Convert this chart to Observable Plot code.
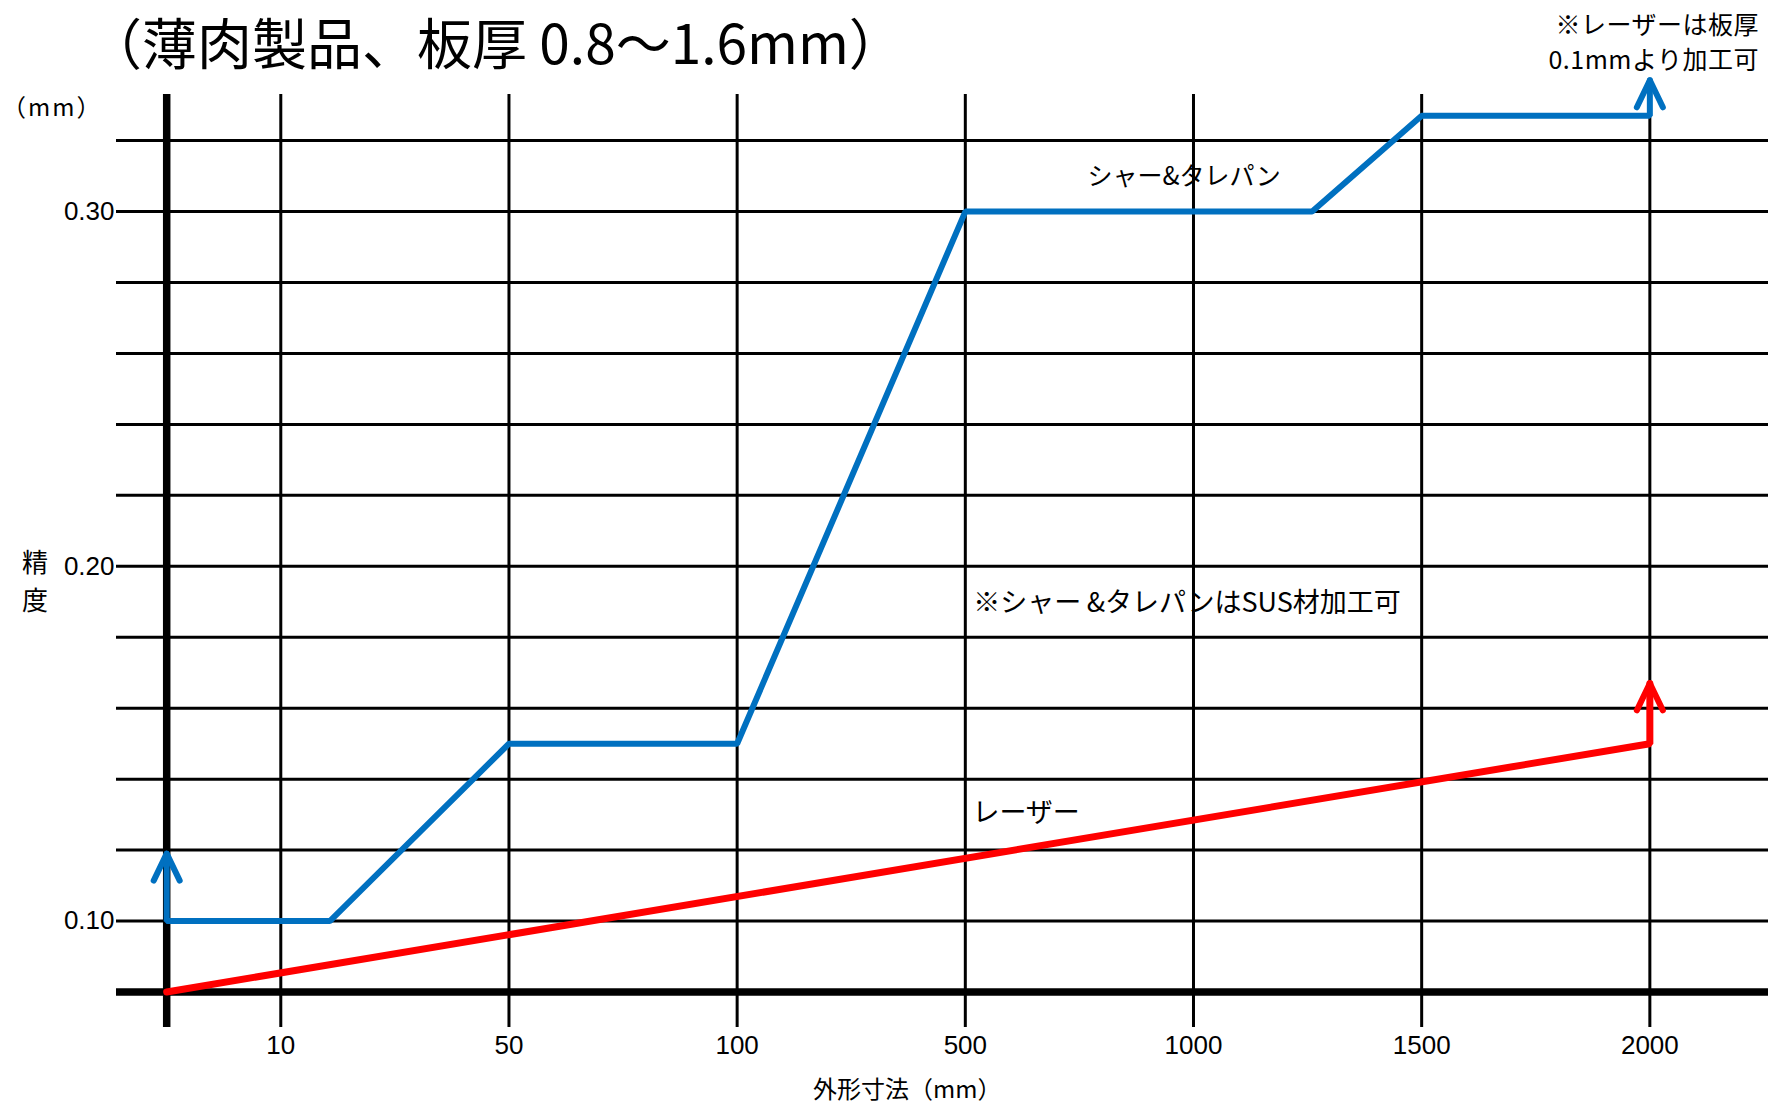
<!DOCTYPE html>
<html><head><meta charset="utf-8">
<script src="https://cdn.jsdelivr.net/npm/d3@7"></script>
<script src="https://cdn.jsdelivr.net/npm/@observablehq/plot@0.6"></script>
<style>
body{margin:0;background:#fff;}
#wrap{position:relative;width:1771px;height:1105px;overflow:hidden;font-family:"Noto Sans CJK JP",sans-serif;color:#000;}
#wrap svg{position:absolute;left:0;top:0;}
.lbl{position:absolute;white-space:nowrap;}
</style></head><body><div id="wrap"></div>
<script>
// x categories (outer size, mm) placed at equal positions 1..7
const categories = ["10", "50", "100", "500", "1000", "1500", "2000"];
const categoryPos = [1, 2, 3, 4, 5, 6, 7];
// y grid values (precision, mm)
const yGridValues = [0.10, 0.12, 0.14, 0.16, 0.18, 0.20, 0.22, 0.24, 0.26, 0.28, 0.30, 0.32];
const yBaseValue = 0.08;
const yTickLabels = [0.10, 0.20, 0.30];
// シャー&タレパン series (position along category axis, precision)
const shearX = [0.5, 0.5, 1.215, 2, 3, 4, 5.52, 6, 7, 7];
const shearY = [0.119, 0.10, 0.10, 0.15, 0.15, 0.30, 0.30, 0.327, 0.327, 0.337];
// レーザー series
const laserX = [0.5, 7, 7];
const laserY = [0.08, 0.15, 0.167];
// annotations in chart
const noteText = ["シャー&タレパン", "※シャー\u2009&タレパンはSUS材加工可", "レーザー"];
const noteX = [4.535, 4.035, 4.031];
const noteY = [0.3098, 0.1895, 0.1303];

const BLUE = "#0070C0", RED = "#FF0000";
const shear = shearX.map((x, i) => ({x, y: shearY[i]}));
const laser = laserX.map((x, i) => ({x, y: laserY[i]}));
const tips = [
  {...shear[0], c: BLUE},
  {...shear[shear.length - 1], c: BLUE},
  {...laser[laser.length - 1], c: RED}
];
const chevron = {
  draw(context) {
    context.moveTo(-13, 27);
    context.lineTo(0, 0);
    context.lineTo(13, 27);
  }
};
const notes = noteText.map((t, i) => ({t, x: noteX[i], y: noteY[i]}));

const chart = Plot.plot({
  width: 1771,
  height: 1105,
  marginLeft: 116,
  marginRight: 3,
  marginTop: 94,
  marginBottom: 78,
  x: {type: "linear", domain: [0.28, 7.52], axis: null},
  y: {type: "linear", domain: [0.07, 0.333], axis: null},
  style: {fontFamily: "'Noto Sans CJK JP', sans-serif", background: "#fff"},
  marks: [
    Plot.ruleX(categoryPos, {stroke: "#000", strokeWidth: 3}),
    Plot.ruleY(yGridValues, {stroke: "#000", strokeWidth: 3}),
    Plot.ruleY([yBaseValue], {stroke: "#000", strokeWidth: 7.5}),
    Plot.ruleX([0.5], {stroke: "#000", strokeWidth: 7.5}),
    Plot.line(laser, {x: "x", y: "y", stroke: RED, strokeWidth: 7, strokeLinejoin: "miter"}),
    Plot.line(shear, {x: "x", y: "y", stroke: BLUE, strokeWidth: 6, strokeLinejoin: "miter"}),
    Plot.vector(tips, {x: "x", y: "y", length: 1, anchor: "start", shape: chevron,
      stroke: "c", strokeWidth: 6, strokeLinecap: "round", strokeLinejoin: "round"}),
    Plot.text(yTickLabels, {x: 0.28, y: d => d, text: d => d3.format(".2f")(d), textAnchor: "end",
      dx: -2, fontSize: 26, fontFamily: "'Liberation Sans', Arial, sans-serif", fill: "#000"}),
    Plot.text(categoryPos, {x: d => d, y: 0.07, text: (d, i) => categories[i], dy: 18,
      fontSize: 26, fontFamily: "'Liberation Sans', Arial, sans-serif", fill: "#000"}),
    Plot.text(notes, {x: "x", y: "y", text: "t", textAnchor: "start", fontSize: (d, i) => i === 0 ? 25 : 27, fill: "#000"})
  ]
});
const wrap = document.getElementById("wrap");
wrap.appendChild(chart);

function addLabel(html, css) {
  const d = document.createElement("div");
  d.className = "lbl";
  d.innerHTML = html;
  Object.assign(d.style, css);
  wrap.appendChild(d);
}
addLabel("（薄肉製品、板厚 0.8〜1.6mm）", {left: "87px", top: "7px", fontSize: "55px", lineHeight: "66px"});
addLabel("※レーザーは板厚", {right: "12px", top: "6px", fontSize: "25px", lineHeight: "34px", letterSpacing: "0.5px"});
addLabel("0.1mmより加工可", {right: "12px", top: "41px", fontSize: "25px", lineHeight: "34px", letterSpacing: "0.5px"});
addLabel("（mm）", {left: "2px", top: "92px", fontSize: "24px", lineHeight: "28px", letterSpacing: "2px"});
addLabel("精<br>度", {left: "22px", top: "542px", fontSize: "26px", lineHeight: "38px"});
addLabel("外形寸法（mm）", {left: "813px", top: "1075px", fontSize: "24px", lineHeight: "26px"});
</script></body></html>
